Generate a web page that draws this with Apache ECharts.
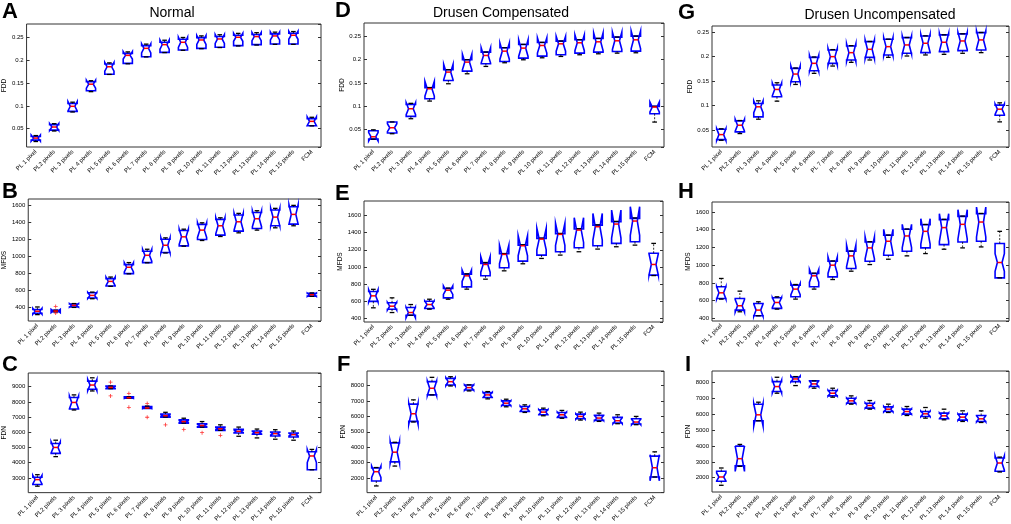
<!DOCTYPE html>
<html><head><meta charset="utf-8">
<script src="https://cdn.jsdelivr.net/npm/echarts@6/dist/echarts.min.js"></script>
<style>html,body{margin:0;padding:0;background:#fff;}#c{width:1011px;height:524px;}</style>
</head><body><div id="c"></div>
<script>
// ---------------- DATA ----------------
const cats = ['PL 1 pixel','PL2 pixels','PL 3 pixels','PL 4 pixels','PL 5 pixels','PL 6 pixels','PL 7 pixels','PL 8 pixels','PL 9 pixels','PL 10 pixels','PL 11 pixels','PL 12 pixels','PL 13 pixels','PL 14 pixels','PL 15 pixels','FCM'];
const catsE = ['PL 1 pixel','PL 2 pixels','PL 3 pixels','PL 4 pixels','PL 5 pixels','PL 6 pixels','PL 7 pixels','PL 8 pixels','PL 9 pixels','PL 10 pixels','PL 11 pixels','PL 12 pixels','PL 13 pixels','PL 14 pixels','PL 15 pixels','FCM'];
const titles = ['Normal','Drusen Compensated','Drusen Uncompensated'];
const letters = ['A','B','C','D','E','F','G','H','I'];
const yNames = ['FDD','MFDS','FDN'];

// each box: [lower whisker, Q1, median, Q3, upper whisker, notch half-size]
const boxA = [
[0.022,0.025,0.0295,0.033,0.035,0.0065],[0.045,0.047,0.0537,0.059,0.061,0.0075],[0.0866,0.088,0.099,0.105,0.108,0.010],
[0.131,0.133,0.1474,0.1526,0.155,0.0086],[0.1687,0.169,0.1855,0.1914,0.194,0.0095],[0.192,0.1928,0.2104,0.2148,0.218,0.0081],
[0.207,0.2075,0.2258,0.2317,0.235,0.010],[0.2165,0.217,0.2339,0.239,0.2435,0.010],[0.2215,0.2222,0.239,0.2456,0.2495,0.011],
[0.225,0.2258,0.2441,0.2493,0.253,0.0096],[0.2275,0.228,0.2463,0.2515,0.2555,0.0096],[0.231,0.2317,0.25,0.2544,0.2585,0.0088],
[0.233,0.2339,0.2515,0.2559,0.26,0.0088],[0.2345,0.2353,0.2529,0.2573,0.2612,0.0088],[0.2345,0.2353,0.2544,0.2588,0.2625,0.0088],
[0.0562,0.0566,0.0661,0.072,0.075,0.0095]];
const boxB = [
[315,330,355,375,405,35],[348,350,357,365,367,20],[400,405,424,440,445,20],[502,510,541,573,580,35],
[648,651,706,738,757,50],[795,797,872,903,927,55],[925,927,1013,1061,1084,70],[1040,1045,1131,1202,1218,87],
[1120,1124,1230,1305,1320,90],[1187,1198,1309,1376,1395,86],[1234,1250,1360,1435,1454,94],[1277,1297,1407,1486,1506,99],
[1309,1328,1443,1517,1537,94],[1336,1360,1462,1545,1565,103],[1360,1380,1494,1584,1600,114],[530,533,549,565,570,20]];
const boxC = [
[2455,2563,2888,3038,3211,280],[4399,4615,5004,5263,5479,367],[7466,7531,7963,8287,8460,430],[8719,8827,9108,9367,9583,370],
[8870,8870,8950,9040,9043,70],[8245,8245,8270,8330,8330,45],[7574,7574,7600,7700,7726,50],[7000,7000,7095,7207,7315,60],
[6602,6602,6706,6818,6926,65],[6343,6343,6447,6559,6706,70],[6127,6127,6233,6343,6492,70],[5738,5954,6062,6192,6343,80],
[5630,5868,5976,6084,6213,80],[5544,5760,5911,6019,6170,85],[5479,5695,5846,5954,6084,90],[3535,3535,4442,4723,4874,430]];
const boxD = [
[0.029,0.029,0.034,0.047,0.049,0.009],[0.0406,0.042,0.0535,0.0657,0.066,0.0085],[0.0729,0.0779,0.0944,0.1037,0.106,0.013],
[0.1109,0.1159,0.1374,0.1396,0.140,0.0158],[0.1482,0.1553,0.1733,0.1783,0.1785,0.0165],[0.1697,0.1754,0.1948,0.1998,0.200,0.0165],
[0.1855,0.1912,0.2091,0.2163,0.2165,0.0165],[0.1934,0.1962,0.2184,0.2256,0.2258,0.0173],[0.1998,0.2034,0.2249,0.2328,0.233,0.018],
[0.2041,0.2077,0.2306,0.2371,0.2373,0.0165],[0.207,0.2106,0.2342,0.24,0.2402,0.0158],[0.2106,0.2141,0.2364,0.2428,0.243,0.017],
[0.2127,0.2163,0.2385,0.2457,0.2459,0.0187],[0.2141,0.2177,0.2407,0.2486,0.2488,0.0186],[0.2149,0.2184,0.2428,0.2507,0.2509,0.0187],
[0.0657,0.0836,0.098,0.0994,0.0996,0.0107]];
const boxE = [
[525,600,664,715,740,70],[470,509,544,583,641,45],[439,439,470,528,563,60],[509,517,563,602,625,40],
[625,641,730,750,755,50],[742,769,897,917,920,66],[858,897,1029,1041,1052,90],[955,990,1146,1153,1156,108],
[1037,1068,1247,1254,1258,116],[1099,1138,1324,1332,1335,125],[1138,1177,1379,1386,1390,128],[1177,1223,1429,1441,1445,144],
[1208,1247,1468,1487,1490,155],[1235,1274,1499,1526,1530,163],[1254,1293,1534,1565,1570,167],[900,905,1029,1160,1274,125]];
const boxF = [
[1485,1808,2410,2650,2680,365],[2775,3050,3678,4280,4320,700],[5640,5678,6173,6796,7075,680],[7398,7398,7828,8258,8538,470],
[7978,8043,8258,8473,8580,250],[7656,7720,7871,8043,8050,180],[7140,7226,7398,7548,7613,170],[6624,6710,6860,7011,7118,160],
[6259,6323,6495,6645,6753,170],[6043,6108,6280,6430,6538,170],[5880,5936,6108,6258,6390,170],[5764,5850,6000,6151,6280,170],
[5678,5742,5893,6065,6215,170],[5527,5570,5721,5936,6108,190],[5463,5506,5635,5850,6000,180],[2066,2066,2668,3420,3700,850]];
const boxG = [
[0.0297,0.031,0.0412,0.0521,0.053,0.012],[0.0433,0.0467,0.0603,0.0691,0.0698,0.012],[0.0725,0.0773,0.0977,0.1045,0.1099,0.012],
[0.1092,0.1181,0.133,0.1419,0.1466,0.013],[0.1432,0.1487,0.1643,0.1759,0.1766,0.0163],[0.1657,0.1711,0.1861,0.1983,0.199,0.0163],
[0.1806,0.1861,0.1997,0.2133,0.214,0.017],[0.1881,0.1929,0.2078,0.2214,0.2221,0.018],[0.1929,0.1983,0.2146,0.2303,0.2305,0.019],
[0.1983,0.2031,0.22,0.235,0.2352,0.0184],[0.201,0.2065,0.2235,0.2384,0.2386,0.0183],[0.2031,0.2078,0.2269,0.2418,0.242,0.0183],
[0.2044,0.2099,0.2289,0.2439,0.2441,0.0184],[0.2065,0.2119,0.2316,0.2459,0.2461,0.0177],[0.2078,0.2133,0.2337,0.2486,0.2488,0.0183],
[0.0671,0.0807,0.0929,0.1011,0.1058,0.0105]];
const boxH = [
[617,624,688,756,850,70],[474,493,542,624,707,70],[429,429,493,568,587,70],[504,512,579,632,643,55],
[617,643,730,775,782,63],[730,756,880,906,910,71],[838,868,1000,1045,1048,93],[932,962,1105,1157,1160,120],
[1007,1045,1195,1262,1265,124],[1067,1112,1270,1337,1340,135],[1105,1157,1330,1405,1408,131],[1131,1195,1382,1457,1460,143],
[1180,1232,1424,1514,1517,157],[1195,1262,1461,1551,1554,165],[1206,1270,1487,1581,1584,169],[857,857,1030,1244,1382,100]];
const boxI = [
[1523,1775,2047,2404,2613,250],[2720,2750,3200,3990,4100,800],[5590,5590,5967,6637,6763,700],[7329,7434,7748,8063,8335,400],
[7811,8063,8230,8356,8377,180],[7644,7748,7916,8105,8110,180],[7078,7162,7329,7497,7644,180],[6638,6700,6847,7015,7162,170],
[6323,6386,6554,6700,6868,170],[6114,6176,6323,6470,6638,170],[5925,6009,6176,6323,6491,170],[5757,5862,6030,6176,6428,170],
[5652,5715,5904,6072,6323,180],[5548,5632,5820,6009,6218,190],[5485,5548,5715,5925,6218,190],[2362,2404,2928,3242,3300,450]];

// outliers: [category index, value]
const outB = [[1,412],[1,333]];
const outC = [[4,9298],[4,8390],[5,8546],[5,7639],[6,7898],[6,6990],[7,6492],[8,6187],[9,5973],[10,5801]];

// y-axis ranges and tick steps
const rangeA = [0.01, 0.279], rangeB = [240, 1675], rangeC = [2030, 9900];
const rangeD = [0.012, 0.279], rangeE = [360, 1767], rangeF = [1050, 8950];
const rangeG = [0.016, 0.262], rangeH = [370, 1713], rangeI = [1100, 8730];
const stepFDD = 0.05, stepMFDS = 200, stepFDN = 1000;

// ---------------- LAYOUT ----------------
const FONT = '"Liberation Sans", Arial, Helvetica, sans-serif';
const panels = [
  {box: boxA, out: [], range: rangeA, step: stepFDD, name: yNames[0], cats: cats, g: [23, 24, 298, 123], gap: 16},
  {box: boxB, out: outB, range: rangeB, step: stepMFDS, name: yNames[1], cats: cats, g: [23, 199, 298, 122], gap: 17},
  {box: boxC, out: outC, range: rangeC, step: stepFDN, name: yNames[2], cats: cats, g: [24, 373, 297, 122], gap: 17},
  {box: boxD, out: [], range: rangeD, step: stepFDD, name: yNames[0], cats: cats, g: [364, 23, 300, 124], gap: 13},
  {box: boxE, out: [], range: rangeE, step: stepMFDS, name: yNames[1], cats: catsE, g: [364, 201, 299, 121], gap: 16},
  {box: boxF, out: [], range: rangeF, step: stepFDN, name: yNames[2], cats: cats, g: [367, 371, 297, 122], gap: 16},
  {box: boxG, out: [], range: rangeG, step: stepFDD, name: yNames[0], cats: cats, g: [712, 26, 297, 121], gap: 15},
  {box: boxH, out: [], range: rangeH, step: stepMFDS, name: yNames[1], cats: cats, g: [712, 202, 297, 119], gap: 17},
  {box: boxI, out: [], range: rangeI, step: stepFDN, name: yNames[2], cats: cats, g: [712, 371, 297, 121], gap: 17}
];
const letterPos = [[2,12],[2,192],[2,365],[335,10.5],[335,194],[337,365],[678,12.5],[678,192],[685,365]];
const titlePos = [[172,13],[501,13.5],[880,15]];

function renderBox(params, api) {
  const c = api.value(0);
  const wlo = api.value(1), q1 = api.value(2), med = api.value(3), q3 = api.value(4), whi = api.value(5), nh = api.value(6);
  const band = api.size([1, 0])[0];
  const hw = band * 0.25;
  const x = api.coord([c, med])[0];
  const Y = v => api.coord([c, v])[1];
  const yq1 = Y(q1), yq3 = Y(q3), ym = Y(med), ynlo = Y(med - nh), ynhi = Y(med + nh), ywl = Y(wlo), ywh = Y(whi);
  const pts = [[x-hw,yq1],[x-hw,ynlo],[x-hw/2,ym],[x-hw,ynhi],[x-hw,yq3],[x+hw,yq3],[x+hw,ynhi],[x+hw/2,ym],[x+hw,ynlo],[x+hw,yq1]];
  const ch = [];
  ch.push({type:'polygon', shape:{points: pts}, style:{fill:'transparent', stroke:'#0000ff', lineWidth:1.6}});
  if (Math.abs(ywh - yq3) > 0.5) ch.push({type:'line', shape:{x1:x,y1:yq3,x2:x,y2:ywh}, style:{stroke:'#000', lineWidth:0.8, lineDash:[2,1.5]}});
  if (Math.abs(ywl - yq1) > 0.5) ch.push({type:'line', shape:{x1:x,y1:yq1,x2:x,y2:ywl}, style:{stroke:'#000', lineWidth:0.8, lineDash:[2,1.5]}});
  ch.push({type:'line', shape:{x1:x-hw/2,y1:ywh,x2:x+hw/2,y2:ywh}, style:{stroke:'#000', lineWidth:1.3}});
  ch.push({type:'line', shape:{x1:x-hw/2,y1:ywl,x2:x+hw/2,y2:ywl}, style:{stroke:'#000', lineWidth:1.3}});
  ch.push({type:'line', shape:{x1:x-hw/2,y1:ym,x2:x+hw/2,y2:ym}, style:{stroke:'#ff0000', lineWidth:1.5}});
  return {type:'group', children: ch};
}

const fmt = v => String(parseFloat(Number(v).toFixed(4)));
const grid = [], xAxis = [], yAxis = [], series = [];
panels.forEach((p, i) => {
  grid.push({left: p.g[0], top: p.g[1], width: p.g[2], height: p.g[3], show: true, borderColor: '#333', borderWidth: 1, backgroundColor: '#fff'});
  xAxis.push({type:'category', gridIndex: i, data: p.cats, position:'bottom',
    axisLine:{show:false}, axisTick:{inside:true, alignWithLabel:true, length:3, lineStyle:{color:'#333'}},
    axisLabel:{interval:0, rotate:45, fontSize:6, margin:4, color:'#000', fontFamily: FONT}});
  xAxis.push({type:'category', gridIndex: i, data: p.cats, position:'top',
    axisLine:{show:false}, axisTick:{inside:true, alignWithLabel:true, length:3, lineStyle:{color:'#333'}},
    axisLabel:{show:false}});
  const yBase = {type:'value', gridIndex: i, min: p.range[0], max: p.range[1], minInterval: p.step, maxInterval: p.step, splitNumber: 6,
    splitLine:{show:false}, axisLine:{show:false}};
  yAxis.push(Object.assign({}, yBase, {position:'left', name: p.name, nameLocation:'middle', nameGap: p.gap, nameRotate: 90,
    nameTextStyle:{fontSize:6.5, color:'#000', fontFamily: FONT},
    axisTick:{show:true, inside:true, length:3, lineStyle:{color:'#333'}},
    axisLabel:{fontSize:6, margin:3, color:'#000', fontFamily: FONT, showMinLabel:false, showMaxLabel:false, formatter: fmt}}));
  yAxis.push(Object.assign({}, yBase, {position:'right',
    axisTick:{show:true, inside:true, length:3, lineStyle:{color:'#333'}}, axisLabel:{show:false}}));
  series.push({type:'custom', xAxisIndex: 2*i, yAxisIndex: 2*i, renderItem: renderBox,
    encode:{x:0, y:[1,2,3,4,5]}, clip: false,
    data: p.box.map((b, k) => [k].concat(b))});
  if (p.out.length) series.push({type:'scatter', xAxisIndex: 2*i, yAxisIndex: 2*i,
    symbol:'path://M4,0h2v4h4v2h-4v4h-2v-4h-4v-2h4z', symbolSize:4, itemStyle:{color:'#ff0000'}, data: p.out});
});

const graphic = [];
letters.forEach((L, i) => graphic.push({type:'text', x: letterPos[i][0], y: letterPos[i][1],
  style:{text: L, font: 'bold 22px ' + FONT, fill:'#000', textVerticalAlign:'middle', verticalAlign:'middle'}}));
titles.forEach((t, i) => graphic.push({type:'text', x: titlePos[i][0], y: titlePos[i][1],
  style:{text: t, font: '14px ' + FONT, fill:'#000', textAlign:'center', align:'center', textVerticalAlign:'middle', verticalAlign:'middle'}}));

const chart = echarts.init(document.getElementById('c'), null, {renderer:'canvas'});
chart.setOption({animation:false, backgroundColor:'#fff', grid, xAxis, yAxis, series, graphic});
</script></body></html>
